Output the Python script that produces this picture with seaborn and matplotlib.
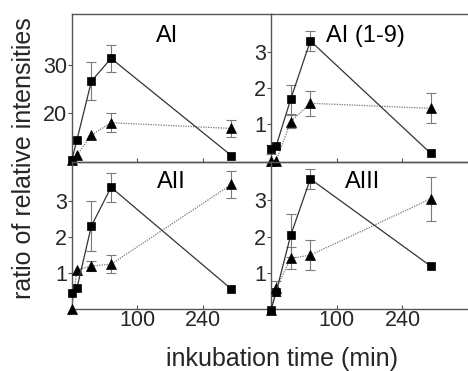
import numpy as np
import pandas as pd
import matplotlib
matplotlib.use("Agg")
import matplotlib.pyplot as plt
import seaborn as sns

# zeiten (min) und werte
zeiten = [0, 8, 30, 60, 300]

titel = ["AI", "AI (1-9)", "AII", "AIII"]

quad_werte = [
    [10, 14.3, 26.6, 31.4, 11.0],
    [0.31, 0.41, 1.69, 3.30, 0.20],
    [0.45, 0.59, 2.31, 3.38, 0.56],
    [0.0, 0.5, 2.04, 3.58, 1.2],
]
quad_fehler = [
    [0, 0, 4.0, 2.8, 0],
    [0.12, 0, 0.4, 0.28, 0],
    [0, 0, 0.7, 0.4, 0],
    [0, 0, 0.58, 0.27, 0],
]
dreieck_werte = [
    [10, 11.1, 15.3, 17.9, 16.7],
    [0.0, 0.0, 1.07, 1.58, 1.44],
    [0.0, 1.09, 1.2, 1.25, 3.46],
    [0.0, 0.59, 1.41, 1.5, 3.04],
]
dreieck_fehler = [
    [0, 0, 0, 2.0, 1.8],
    [0, 0, 0.18, 0.35, 0.41],
    [0, 0, 0.15, 0.25, 0.37],
    [0, 0.2, 0.3, 0.4, 0.6],
]

y_ticks = [[20, 30], [1, 2, 3], [1, 2, 3], [1, 2, 3]]
y_grenzen = [(9.73, 40.7), (-0.03, 4.04), (0.01, 4.09), (0.03, 4.05)]
x_ticks = [100, 240]

sns.set_theme(style="ticks")
plt.rcParams["font.family"] = ["Liberation Sans", "DejaVu Sans"]

K = 0.718  # Stauchung oberhalb 100 min


def vor(t):
    t = np.asarray(t, dtype=float)
    return np.where(t <= 100, t, 100 + (t - 100) * K)


def zurueck(u):
    u = np.asarray(u, dtype=float)
    return np.where(u <= 100, u, 100 + (u - 100) / K)


fig = plt.figure(figsize=(4.68, 3.71), dpi=100)

# Positionen in Pixel: links 71.7-271, rechts 271-467
positionen = [
    [71.7 / 468, 1 - 161.7 / 371, 199.3 / 468, 147.7 / 371],
    [271 / 468, 1 - 161.7 / 371, 196 / 468, 147.7 / 371],
    [71.7 / 468, 1 - 309 / 371, 199.3 / 468, 147.3 / 371],
    [271 / 468, 1 - 309 / 371, 196 / 468, 147.3 / 371],
]
x_rechts = [384, 377, 384, 377]
titel_pos = [(0.478, 0.8125), (0.48, 0.8125), (0.50, 0.82), (0.466, 0.82)]

spine_farbe = "#555555"

for i in range(4):
    ax = fig.add_axes(positionen[i])
    ax.set_xscale("function", functions=(vor, zurueck))

    df = pd.DataFrame({"zeit": zeiten, "quad": quad_werte[i], "dreieck": dreieck_werte[i]})

    # Fehlerbalken (nur wo vorhanden)
    for werte, fehler in [(quad_werte[i], quad_fehler[i]), (dreieck_werte[i], dreieck_fehler[i])]:
        idx = [j for j in range(len(zeiten)) if fehler[j] > 0]
        if idx:
            ax.errorbar([zeiten[j] for j in idx], [werte[j] for j in idx],
                        yerr=[fehler[j] for j in idx], fmt="none", ecolor="#7a7a7a",
                        elinewidth=0.8, capsize=3.5, capthick=0.8, zorder=2, clip_on=False)

    sns.lineplot(data=df, x="zeit", y="dreieck", ax=ax, color="#777777", linestyle=(0, (1, 1)),
                 linewidth=0.9, marker="^", markersize=7.5, markerfacecolor="black",
                 markeredgecolor="black", markeredgewidth=0.5, clip_on=False, zorder=3)
    sns.lineplot(data=df, x="zeit", y="quad", ax=ax, color="#333333", linewidth=0.9,
                 marker="s", markersize=5.8, markerfacecolor="black",
                 markeredgecolor="black", markeredgewidth=0.5, clip_on=False, zorder=4)

    ax.set_xlim(0, x_rechts[i])
    ax.set_ylim(*y_grenzen[i])
    ax.set_xticks(x_ticks)
    ax.set_yticks(y_ticks[i])
    ax.set_xlabel("")
    ax.set_ylabel("")
    ax.minorticks_off()

    ax.tick_params(axis="x", direction="in", length=3, width=0.8, color=spine_farbe,
                   labelsize=15.5, pad=0.5)
    ax.tick_params(axis="y", direction="out", length=3, width=0.8, color=spine_farbe,
                   labelsize=15.5, pad=0.5)
    if i < 2:
        ax.set_xticklabels([])
    else:
        ax.set_xticklabels([str(t) for t in x_ticks])
    ax.set_yticklabels([str(t) for t in y_ticks[i]])

    for s in ["left", "bottom", "top"]:
        ax.spines[s].set_color(spine_farbe)
        ax.spines[s].set_linewidth(1.0)
    ax.spines["right"].set_visible(False)
    ax.patch.set_alpha(0)

    ax.text(titel_pos[i][0], titel_pos[i][1], titel[i], transform=ax.transAxes,
            ha="center", va="baseline", fontsize=17, color="black")

fig.text(0.052, 0.574, "ratio of relative intensities", rotation=90,
         ha="center", va="center", fontsize=18)
fig.text(0.602, 0.0135, "inkubation time (min)", ha="center", va="baseline", fontsize=18)

fig.savefig("out.png", dpi=100, facecolor="white")
